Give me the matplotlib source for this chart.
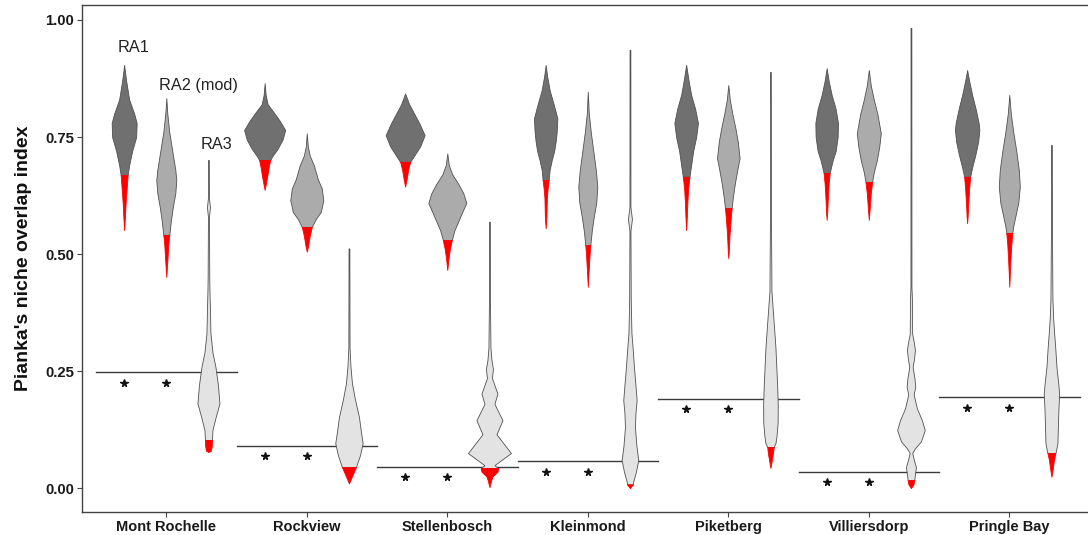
import matplotlib
matplotlib.use("Agg")
import matplotlib.pyplot as plt
import numpy as np

plt.rcParams['font.family'] = ['Liberation Sans', 'DejaVu Sans']

# sites on the x axis
sites = ["Mont Rochelle", "Rockview", "Stellenbosch", "Kleinmond",
         "Piketberg", "Villiersdorp", "Pringle Bay"]

# observed overlap (horizontal line) per site
observed = [0.247, 0.090, 0.045, 0.057, 0.190, 0.035, 0.194]

# violin profiles: (overlap value, relative density)
# one entry per site, top of violin to bottom
ra1_profiles = [
    [(.904, 0), (.87, 2), (.83, 5), (.80, 10), (.78, 12.5), (.75, 12), (.72, 8), (.69, 5), (.669, 3.5), (.64, 2.5), (.61, 1.5), (.58, 0.8), (.551, 0)],
    [(.865, 0), (.84, 1), (.82, 3), (.80, 10), (.785, 15), (.765, 20.5), (.745, 18), (.725, 13), (.71, 8), (.701, 5.5), (.685, 4), (.665, 2.5), (.65, 1.2), (.637, 0)],
    [(.843, 0), (.82, 4), (.80, 9), (.78, 14), (.754, 19.5), (.73, 15), (.71, 9), (.697, 5), (.68, 3), (.66, 1.5), (.644, 0)],
    [(.904, 0), (.88, 1.5), (.85, 4), (.82, 8), (.79, 11.7), (.76, 11), (.74, 10), (.72, 8.5), (.70, 6), (.68, 4), (.658, 3), (.64, 2), (.62, 1.2), (.58, 0.8), (.555, 0)],
    [(.904, 0), (.87, 2.5), (.84, 5), (.81, 9), (.78, 11.8), (.75, 10), (.72, 7), (.69, 5), (.665, 3.3), (.64, 2), (.61, 1.2), (.58, 0.7), (.551, 0)],
    [(.897, 0), (.87, 2), (.84, 5), (.81, 9), (.78, 11.3), (.75, 11), (.72, 9), (.70, 6), (.673, 3), (.65, 2), (.62, 1.2), (.59, 0.6), (.573, 0)],
    [(.893, 0), (.87, 2), (.84, 5), (.81, 8.5), (.78, 11.5), (.765, 12.2), (.74, 11), (.71, 8), (.685, 5), (.665, 3), (.64, 2), (.61, 1.2), (.58, 0.5), (.566, 0)],
]
ra2_profiles = [
    [(.833, 0), (.80, 1), (.76, 3), (.72, 6), (.68, 9), (.658, 10), (.63, 9), (.60, 6.5), (.57, 4.5), (.541, 3), (.52, 2), (.49, 1.2), (.451, 0)],
    [(.758, 0), (.73, 1), (.71, 3), (.69, 7), (.66, 11), (.64, 15), (.615, 16.5), (.59, 14), (.575, 9), (.558, 5), (.54, 3), (.52, 1.5), (.505, 0)],
    [(.715, 0), (.69, 1.5), (.67, 5), (.65, 11), (.63, 16), (.609, 19), (.59, 15), (.57, 11), (.55, 7), (.53, 4.5), (.51, 2.5), (.49, 1.2), (.466, 0)],
    [(.847, 0), (.80, 1), (.76, 3), (.72, 5.5), (.68, 8), (.644, 9.5), (.61, 8.5), (.58, 6), (.55, 4), (.519, 2.5), (.50, 1.8), (.47, 1), (.43, 0)],
    [(.861, 0), (.83, 1.5), (.80, 4), (.77, 7), (.74, 9.5), (.705, 11.3), (.68, 9), (.65, 6.5), (.62, 4.5), (.598, 3.3), (.57, 2.2), (.54, 1.2), (.51, 0.6), (.491, 0)],
    [(.893, 0), (.86, 2), (.83, 5), (.80, 8.5), (.758, 12), (.73, 10.5), (.70, 8), (.675, 5), (.654, 3.3), (.63, 2), (.60, 1), (.573, 0)],
    [(.840, 0), (.80, 1.5), (.76, 4), (.72, 7), (.68, 9.5), (.644, 10.5), (.61, 9), (.58, 6), (.56, 4), (.545, 3), (.52, 2), (.49, 1.2), (.46, 0.6), (.43, 0)],
]
ra3_profiles = [
    [(.701, 0.4), (.62, 0.5), (.60, 1.5), (.58, 0.5), (.45, 0.8), (.423, 1), (.38, 1.5), (.331, 2), (.29, 4), (.259, 7), (.22, 9.5), (.181, 11), (.15, 7), (.124, 4), (.103, 3.5), (.09, 3.3), (.08, 2.5), (.077, 0)],
    [(.512, 0.4), (.30, 0.6), (.26, 1.5), (.224, 3), (.19, 6), (.152, 10), (.12, 12), (.096, 13.7), (.07, 11), (.045, 7), (.03, 4), (.01, 0)],
    [(.569, 0.4), (.40, 0.5), (.30, 1), (.274, 2), (.255, 3.5), (.235, 2.5), (.202, 8), (.18, 5), (.145, 13), (.115, 7), (.075, 21.5), (.06, 12), (.049, 5), (.043, 8.7), (.035, 8), (.025, 3), (.015, 1.5), (.002, 0)],
    [(.936, 0.4), (.60, 0.5), (.575, 2), (.55, 0.5), (.40, 0.8), (.331, 1.5), (.29, 3), (.259, 4), (.22, 5.5), (.188, 6.7), (.16, 5.5), (.13, 5), (.09, 6.5), (.06, 8.3), (.035, 6), (.012, 3), (.008, 3), (.0, 0)],
    [(.889, 0.4), (.58, 0.5), (.42, 1), (.37, 2.7), (.30, 5), (.22, 6.7), (.18, 7.3), (.14, 7.2), (.11, 6), (.096, 5), (.088, 3.3), (.07, 2.2), (.055, 1), (.043, 0)],
    [(.983, 0.4), (.43, 0.5), (.40, 1), (.33, 1.2), (.31, 3), (.295, 4), (.275, 3), (.259, 1.7), (.235, 3.5), (.216, 4.3), (.20, 2.7), (.17, 6), (.145, 11), (.124, 13.8), (.10, 10), (.085, 4), (.075, 1.3), (.06, 3), (.045, 5), (.03, 4), (.017, 3.3), (.008, 2.5), (0, 0)],
    [(.733, 0.4), (.55, 0.5), (.402, 1), (.36, 1.8), (.331, 2.7), (.30, 3.8), (.259, 5), (.22, 7), (.202, 7.7), (.17, 7), (.15, 6.7), (.12, 6.3), (.096, 6), (.085, 5), (.075, 4), (.06, 2.5), (.04, 1.2), (.024, 0)],
]

# lower 5% cut-off (red tail starts here)
ra1_cut = [.669, .701, .697, .658, .665, .673, .665]
ra2_cut = [.541, .558, .53, .519, .598, .654, .545]
ra3_cut = [.103, .045, .043, .008, .088, .017, .075]

groups = [
    ("RA1", ra1_profiles, ra1_cut, "#707070", -0.3),
    ("RA2 (mod)", ra2_profiles, ra2_cut, "#ababab", 0.0),
    ("RA3", ra3_profiles, ra3_cut, "#e3e3e3", 0.3),
]

width_scale = 1 / 140.5   # density units -> x units


def draw_violin(ax, xc, profile, cut, color):
    y = np.array([p[0] for p in profile])
    w = np.array([p[1] for p in profile]) * width_scale
    top = y >= cut
    low = y <= cut
    ax.fill_betweenx(y[top], xc - w[top], xc + w[top], facecolor=color,
                     edgecolor="#505050", linewidth=0.6, zorder=3)
    ax.fill_betweenx(y[low], xc - w[low], xc + w[low], facecolor="#ff0000",
                     edgecolor="#ff0000", linewidth=0.6, zorder=3)


fig = plt.figure(figsize=(10.88, 5.35), dpi=100)
ax = fig.add_axes([82 / 1088, 1 - 512 / 535, 1011.6 / 1088, 507 / 535])

for name, profiles, cuts, color, off in groups:
    for i in range(len(sites)):
        draw_violin(ax, i + off, profiles[i], cuts[i], color)

# observed value line + asterisks under RA1 and RA2
for i, obs in enumerate(observed):
    ax.plot([i - 0.5, i + 0.5], [obs, obs], color="#3a3a3a", lw=1.0, zorder=2)
    ax.plot([i - 0.3, i], [obs - 0.022, obs - 0.022], linestyle="none",
            marker="*", ms=5.5, color="#111111", zorder=4)

# labels over the first site
ax.text(-0.235, 0.942, "RA1", ha="center", va="center", fontsize=11.7, color="#222222")
ax.text(0.228, 0.861, "RA2 (mod)", ha="center", va="center", fontsize=11.7, color="#222222")
ax.text(0.356, 0.733, "RA3", ha="center", va="center", fontsize=11.7, color="#222222")

ax.set_xlim(-0.6, 6.6)
ax.set_ylim(-0.051, 1.032)
ax.set_xticks(range(len(sites)))
ax.set_xticklabels(sites, fontsize=10.5, fontweight="bold", color="#1a1a1a")
ax.set_yticks([0, 0.25, 0.5, 0.75, 1.0])
ax.set_yticklabels(["0.00", "0.25", "0.50", "0.75", "1.00"],
                   fontsize=10.7, fontweight="bold", color="#1a1a1a")
ax.tick_params(length=3.5, width=0.8, color="#444444", pad=2)
ax.set_ylabel("Pianka's niche overlap index", fontsize=14, fontweight="bold",
              color="#111111", labelpad=10)
for s in ax.spines.values():
    s.set_color("#444444")
    s.set_linewidth(1.0)

fig.savefig("out.png", dpi=100)
